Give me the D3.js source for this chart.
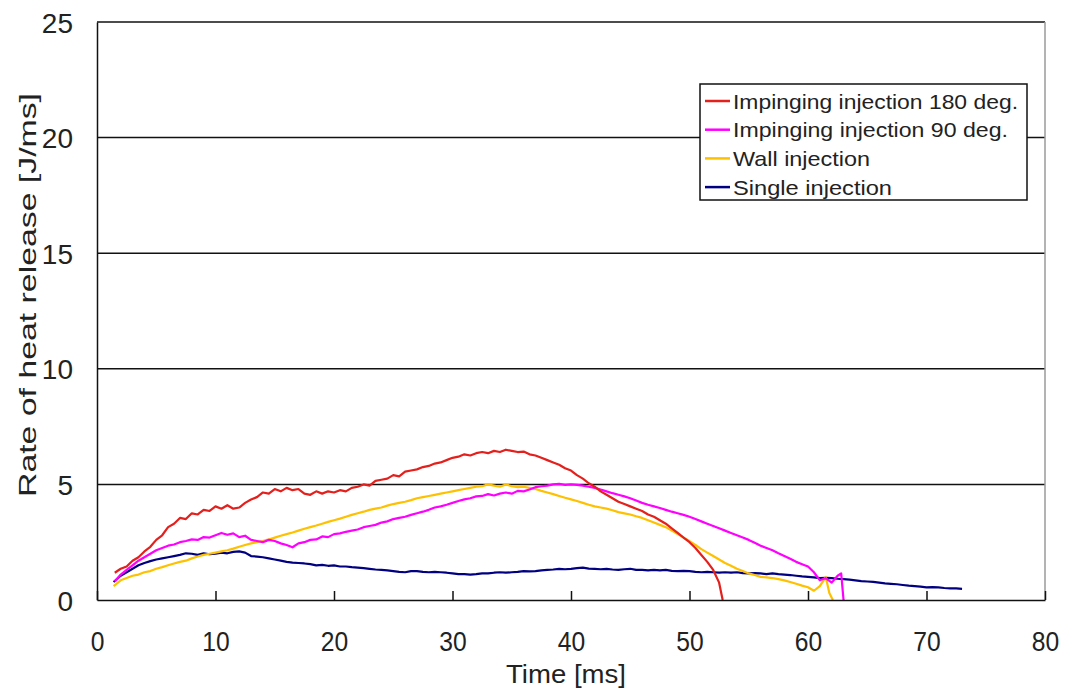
<!DOCTYPE html>
<html>
  <head>
    <meta charset="utf-8" />
    <title>Rate of heat release</title>
    <script src="https://d3js.org/d3.v7.min.js"></script>
    <style>
        body { margin: 0; background: #fff; }
        text { font-family: "Liberation Sans", Arial, sans-serif; fill: #222; }
    </style>
  </head>
<body>
    <svg id="chart" width="1072" height="697"></svg>

    <script>
        // series: [time ms, rate J/ms]
        var imp180 = [[1.5,1.18],[2,1.35],[2.5,1.45],[3,1.7],[3.5,1.85],[4,2.1],[4.5,2.3],[5,2.6],[5.5,2.8],[6,3.15],[6.5,3.3],[7,3.55],[7.5,3.5],[8,3.75],[8.5,3.7],[9,3.9],[9.5,3.85],[10,4.05],[10.5,3.95],[11,4.1],[11.5,3.95],[12,4.0],[12.5,4.2],[13,4.35],[13.5,4.45],[14,4.65],[14.5,4.6],[15,4.8],[15.5,4.7],[16,4.85],[16.5,4.75],[17,4.8],[17.5,4.6],[18,4.55],[18.5,4.7],[19,4.6],[19.5,4.7],[20,4.65],[20.5,4.75],[21,4.7],[21.5,4.85],[22,4.9],[22.5,5.0],[23,4.95],[23.5,5.15],[24,5.2],[24.5,5.25],[25,5.4],[25.5,5.35],[26,5.55],[26.5,5.6],[27,5.65],[27.5,5.75],[28,5.8],[28.5,5.9],[29,5.95],[29.5,6.05],[30,6.15],[30.5,6.2],[31,6.3],[31.5,6.25],[32,6.35],[32.5,6.4],[33,6.35],[33.5,6.45],[34,6.4],[34.5,6.5],[35,6.45],[35.5,6.4],[36,6.42],[36.5,6.3],[37,6.25],[37.5,6.15],[38,6.05],[38.5,5.95],[39,5.85],[39.5,5.7],[40,5.6],[40.5,5.4],[41,5.25],[41.5,5.05],[42,4.9],[42.5,4.7],[43,4.55],[43.5,4.4],[44,4.25],[44.5,4.15],[45,4.05],[45.5,3.95],[46,3.85],[46.5,3.7],[47,3.6],[47.5,3.45],[48,3.3],[48.5,3.1],[49,2.9],[49.5,2.7],[50,2.5],[50.5,2.25],[51,1.95],[51.5,1.65],[52,1.3],[52.5,0.75],[52.8,0]];

        var imp90 = [[1.5,0.8],[2,1.1],[2.5,1.3],[3,1.5],[3.5,1.7],[4,1.85],[4.5,2.0],[5,2.15],[5.5,2.25],[6,2.35],[6.5,2.4],[7,2.5],[7.5,2.55],[8,2.62],[8.5,2.6],[9,2.72],[9.5,2.7],[10,2.8],[10.5,2.9],[11,2.82],[11.5,2.88],[12,2.72],[12.5,2.78],[13,2.6],[13.5,2.55],[14,2.5],[14.5,2.6],[15,2.55],[15.5,2.45],[16,2.38],[16.5,2.28],[17,2.45],[17.5,2.5],[18,2.6],[18.5,2.62],[19,2.75],[19.5,2.72],[20,2.85],[20.5,2.88],[21,2.95],[21.5,3.0],[22,3.05],[22.5,3.15],[23,3.2],[23.5,3.25],[24,3.35],[24.5,3.4],[25,3.5],[25.5,3.55],[26,3.6],[26.5,3.68],[27,3.75],[27.5,3.82],[28,3.9],[28.5,4.0],[29,4.05],[29.5,4.12],[30,4.2],[30.5,4.28],[31,4.35],[31.5,4.4],[32,4.48],[32.5,4.5],[33,4.58],[33.5,4.52],[34,4.6],[34.5,4.65],[35,4.6],[35.5,4.72],[36,4.7],[36.5,4.78],[37,4.88],[37.5,4.92],[38,4.95],[38.5,5.0],[39,5.02],[39.5,4.98],[40,5.0],[40.5,4.98],[41,4.95],[41.5,4.9],[42,4.85],[42.5,4.78],[43,4.7],[43.5,4.62],[44,4.55],[44.5,4.48],[45,4.4],[45.5,4.3],[46,4.2],[46.5,4.12],[47,4.05],[47.5,3.98],[48,3.9],[48.5,3.82],[49,3.75],[49.5,3.68],[50,3.6],[50.5,3.5],[51,3.4],[51.5,3.3],[52,3.2],[52.5,3.1],[53,3.0],[53.5,2.9],[54,2.8],[54.5,2.7],[55,2.6],[55.5,2.48],[56,2.35],[56.5,2.25],[57,2.15],[57.5,2.02],[58,1.9],[58.5,1.78],[59,1.65],[59.5,1.55],[60,1.45],[60.5,1.2],[61,0.85],[61.5,0.95],[62,0.75],[62.5,1.05],[62.8,1.15],[63,0]];

        var wall = [[1.4,0.6],[2,0.85],[2.5,0.95],[3,1.05],[3.5,1.1],[4,1.2],[4.5,1.25],[5,1.35],[5.5,1.42],[6,1.5],[6.5,1.58],[7,1.65],[7.5,1.7],[8,1.8],[8.5,1.88],[9,1.95],[9.5,2.0],[10,2.05],[10.5,2.1],[11,2.15],[11.5,2.22],[12,2.3],[12.5,2.38],[13,2.45],[13.5,2.5],[14,2.55],[14.5,2.62],[15,2.7],[15.5,2.78],[16,2.85],[16.5,2.92],[17,3.0],[17.5,3.08],[18,3.15],[18.5,3.22],[19,3.3],[19.5,3.38],[20,3.45],[20.5,3.52],[21,3.6],[21.5,3.68],[22,3.75],[22.5,3.82],[23,3.9],[23.5,3.95],[24,4.0],[24.5,4.08],[25,4.15],[25.5,4.2],[26,4.25],[26.5,4.32],[27,4.4],[27.5,4.45],[28,4.5],[28.5,4.55],[29,4.6],[29.5,4.65],[30,4.7],[30.5,4.75],[31,4.8],[31.5,4.85],[32,4.9],[32.5,4.92],[33,5.0],[33.5,4.95],[34,4.9],[34.5,5.0],[35,4.92],[35.5,4.88],[36,4.9],[36.5,4.85],[37,4.8],[37.5,4.72],[38,4.65],[38.5,4.58],[39,4.5],[39.5,4.42],[40,4.35],[40.5,4.28],[41,4.2],[41.5,4.12],[42,4.05],[42.5,4.0],[43,3.95],[43.5,3.88],[44,3.8],[44.5,3.75],[45,3.7],[45.5,3.62],[46,3.55],[46.5,3.45],[47,3.35],[47.5,3.25],[48,3.15],[48.5,3.0],[49,2.85],[49.5,2.7],[50,2.55],[50.5,2.38],[51,2.2],[51.5,2.05],[52,1.9],[52.5,1.75],[53,1.6],[53.5,1.48],[54,1.35],[54.5,1.25],[55,1.15],[55.5,1.08],[56,1.0],[56.5,0.98],[57,0.95],[57.5,0.9],[58,0.85],[58.5,0.78],[59,0.7],[59.5,0.62],[60,0.55],[60.5,0.4],[61,0.6],[61.5,1.0],[61.8,0.3],[62,0.1],[62.1,0]];

        var single = [[1.4,0.78],[2,1.05],[2.5,1.2],[3,1.35],[3.5,1.5],[4,1.6],[4.5,1.68],[5,1.75],[5.5,1.8],[6,1.85],[6.5,1.9],[7,1.95],[7.5,2.02],[8,2.0],[8.5,1.95],[9,2.02],[9.5,1.98],[10,2.0],[10.5,2.05],[11,2.02],[11.5,2.08],[12,2.1],[12.5,2.05],[13,1.9],[13.5,1.88],[14,1.85],[14.5,1.8],[15,1.75],[15.5,1.7],[16,1.65],[16.5,1.62],[17,1.6],[17.5,1.58],[18,1.55],[18.5,1.5],[19,1.52],[19.5,1.48],[20,1.5],[20.5,1.45],[21,1.45],[21.5,1.42],[22,1.4],[22.5,1.38],[23,1.35],[23.5,1.32],[24,1.3],[24.5,1.28],[25,1.25],[25.5,1.22],[26,1.2],[26.5,1.25],[27,1.25],[27.5,1.22],[28,1.2],[28.5,1.22],[29,1.2],[29.5,1.18],[30,1.15],[30.5,1.12],[31,1.12],[31.5,1.1],[32,1.12],[32.5,1.15],[33,1.15],[33.5,1.18],[34,1.2],[34.5,1.18],[35,1.2],[35.5,1.22],[36,1.25],[36.5,1.24],[37,1.25],[37.5,1.28],[38,1.3],[38.5,1.32],[39,1.35],[39.5,1.33],[40,1.35],[40.5,1.38],[41,1.4],[41.5,1.36],[42,1.35],[42.5,1.33],[43,1.35],[43.5,1.32],[44,1.3],[44.5,1.33],[45,1.35],[45.5,1.3],[46,1.3],[46.5,1.28],[47,1.3],[47.5,1.28],[48,1.3],[48.5,1.26],[49,1.25],[49.5,1.26],[50,1.25],[50.5,1.22],[51,1.2],[51.5,1.22],[52,1.2],[52.5,1.18],[53,1.2],[53.5,1.18],[54,1.2],[54.5,1.16],[55,1.15],[55.5,1.16],[56,1.15],[56.5,1.12],[57,1.15],[57.5,1.12],[58,1.1],[58.5,1.08],[59,1.05],[59.5,1.02],[60,1.0],[60.5,0.98],[61,0.95],[61.5,0.96],[62,0.95],[62.5,0.92],[63,0.9],[63.5,0.88],[64,0.85],[64.5,0.82],[65,0.8],[65.5,0.78],[66,0.75],[66.5,0.72],[67,0.7],[67.5,0.68],[68,0.65],[68.5,0.62],[69,0.6],[69.5,0.58],[70,0.55],[70.5,0.56],[71,0.55],[71.5,0.52],[72,0.5],[72.5,0.5],[73,0.48]];

        var seriesNames = ["Impinging injection 180 deg.", "Impinging injection 90 deg.", "Wall injection", "Single injection"];
        var seriesColors = ["#e3201c", "#ff00ff", "#ffc000", "#000080"];
        var legendWidths = [285, 275, 137, 159];
        var xTicks = [0, 10, 20, 30, 40, 50, 60, 70, 80];
        var yTicks = [0, 5, 10, 15, 20, 25];

        var svg = d3.select("#chart");
        var plotLeft = 97, plotRight = 1045, plotTop = 22, plotBottom = 600;

        var x = d3.scaleLinear().domain([0, 80]).range([plotLeft, plotRight]);
        var y = d3.scaleLinear().domain([0, 25]).range([plotBottom, plotTop]);

        // grid lines (the top one doubles as the frame)
        svg.selectAll(".grid")
            .data(yTicks.filter(function(d) { return d > 0; }))
            .enter().append("line")
            .attr("x1", plotLeft).attr("x2", plotRight)
            .attr("y1", function(d) { return y(d); })
            .attr("y2", function(d) { return y(d); })
            .attr("stroke", "#111")
            .attr("stroke-width", 1.5);

        // right border is light grey
        svg.append("line")
            .attr("x1", plotRight).attr("x2", plotRight)
            .attr("y1", plotTop).attr("y2", plotBottom)
            .attr("stroke", "#9a9a9a").attr("stroke-width", 1.5);

        var line = d3.line()
            .x(function(d) { return x(d[0]); })
            .y(function(d) { return y(d[1]); });

        // draw back to front so the red sits on top like the original
        var allSeries = [imp180, imp90, wall, single];
        [3, 2, 1, 0].forEach(function(i) {
            svg.append("path")
                .datum(allSeries[i])
                .attr("fill", "none")
                .attr("stroke", seriesColors[i])
                .attr("stroke-width", 2.2)
                .attr("stroke-linejoin", "round")
                .attr("d", line);
        });

        // x axis, ticks pointing inward
        var xAxis = svg.append("g")
            .attr("transform", "translate(0," + plotBottom + ")")
            .call(d3.axisBottom(x).tickValues(xTicks).tickSize(-9).tickSizeOuter(0).tickPadding(0));
        xAxis.select(".domain").attr("stroke", "#111").attr("stroke-width", 1.5);
        xAxis.selectAll(".tick line").attr("stroke", "#111").attr("stroke-width", 1.5);
        xAxis.selectAll(".tick text")
            .attr("y", 51)
            .attr("dy", 0)
            .attr("transform", "scale(0.88,1)")
            .style("font-size", "28px");

        var yAxis = svg.append("g")
            .attr("transform", "translate(" + plotLeft + ",0)")
            .call(d3.axisLeft(y).tickValues(yTicks).tickSize(0).tickPadding(24));
        yAxis.select(".domain").attr("stroke", "#111").attr("stroke-width", 1.5);
        yAxis.selectAll(".tick text")
            .attr("dy", "0.36em")
            .style("font-size", "28px");

        // axis titles
        svg.append("text")
            .attr("x", 566).attr("y", 683)
            .attr("text-anchor", "middle")
            .attr("textLength", 120)
            .attr("lengthAdjust", "spacingAndGlyphs")
            .style("font-size", "25px")
            .text("Time [ms]");

        svg.append("text")
            .attr("transform", "translate(36,295) rotate(-90)")
            .attr("text-anchor", "middle")
            .attr("textLength", 404)
            .attr("lengthAdjust", "spacingAndGlyphs")
            .style("font-size", "24px")
            .text("Rate of heat release [J/ms]");

        // legend
        var legend = svg.append("g");
        legend.append("rect")
            .attr("x", 700).attr("y", 84)
            .attr("width", 327).attr("height", 116)
            .attr("fill", "#fff")
            .attr("stroke", "#111")
            .attr("stroke-width", 1.5);

        var rows = legend.selectAll(".row")
            .data(seriesNames)
            .enter().append("g")
            .attr("transform", function(d, i) { return "translate(0," + (101 + i * 28.7) + ")"; });
        rows.append("line")
            .attr("x1", 705).attr("x2", 730)
            .attr("stroke", function(d, i) { return seriesColors[i]; })
            .attr("stroke-width", 2.5);
        rows.append("text")
            .attr("x", 733)
            .attr("dy", "0.36em")
            .attr("textLength", function(d, i) { return legendWidths[i]; })
            .attr("lengthAdjust", "spacingAndGlyphs")
            .style("font-size", "21px")
            .text(function(d) { return d; });
    </script>
</body>
</html>
